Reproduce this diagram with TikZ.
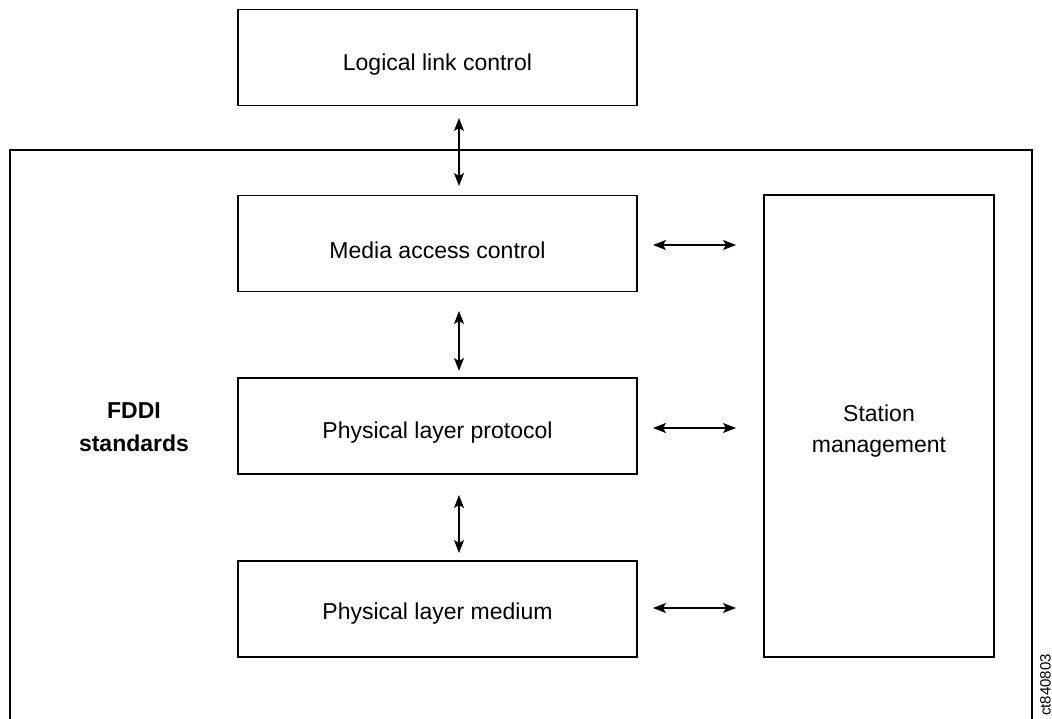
\documentclass[tikz,border=0pt]{standalone}
\usepackage{fontspec}
\setmainfont{Liberation Sans}
\usetikzlibrary{arrows.meta}
\begin{document}
\begin{tikzpicture}[x=1pt,y=-1pt,
  box/.style={draw,line width=1.3pt,minimum width=399pt,minimum height=96pt,inner sep=0pt},
  boxtext/.style={font=\fontsize{23}{28}\selectfont,inner sep=0pt},
  conn/.style={line width=1.3pt,{Stealth[length=13pt,width=10pt,inset=3pt]}-{Stealth[length=13pt,width=10pt,inset=3pt]}}]
\useasboundingbox (0,0) rectangle (1052,719);
\begin{scope}
\clip (0,0) rectangle (1052,719);
\draw[line width=1.3pt] (10,760) -- (10,150) -- (1032,150) -- (1032,760);
\end{scope}
\node[box] (llc) at (437.5,57.5) {};
\node[box] (mac) at (437.5,243.5) {};
\node[box] (plp) at (437.5,426) {};
\node[box] (pmd) at (437.5,609) {};
\node[boxtext] (llct) at ([yshift=-7pt]llc.center) {Logical link control};
\node[boxtext] (mact) at ([yshift=-7pt]mac.center) {Media access control};
\node[boxtext] (plpt) at ([yshift=-7pt]plp.center) {Physical layer protocol};
\node[boxtext] (pmdt) at ([yshift=-5pt]pmd.center) {Physical layer medium};
\node[draw,line width=1.3pt,minimum width=230pt,minimum height=462pt,inner sep=0pt] (smt) at (879,426) {};
\node[boxtext,align=center] (smtt) at ([yshift=-5pt]smt.center) {Station\\[3pt]management};
\node[font=\bfseries\fontsize{23}{33}\selectfont,align=center] (fddi) at (134,427) {FDDI\\standards};
\node[rotate=90,font=\fontsize{15}{17}\selectfont,anchor=south west,inner sep=0pt] (id) at (1051,716) {ct840803};
\coordinate (v1a) at (459,118); \coordinate (v1b) at (459,186);
\coordinate (v2a) at (459,311); \coordinate (v2b) at (459,371);
\coordinate (v3a) at (459,495); \coordinate (v3b) at (459,553);
\coordinate (h1a) at (653,245); \coordinate (h1b) at (736,245);
\coordinate (h2a) at (653,428); \coordinate (h2b) at (736,428);
\coordinate (h3a) at (653,608); \coordinate (h3b) at (736,608);
\draw[conn] (v1a) -- (v1b);
\draw[conn] (v2a) -- (v2b);
\draw[conn] (v3a) -- (v3b);
\draw[conn] (h1a) -- (h1b);
\draw[conn] (h2a) -- (h2b);
\draw[conn] (h3a) -- (h3b);
\end{tikzpicture}
\end{document}
